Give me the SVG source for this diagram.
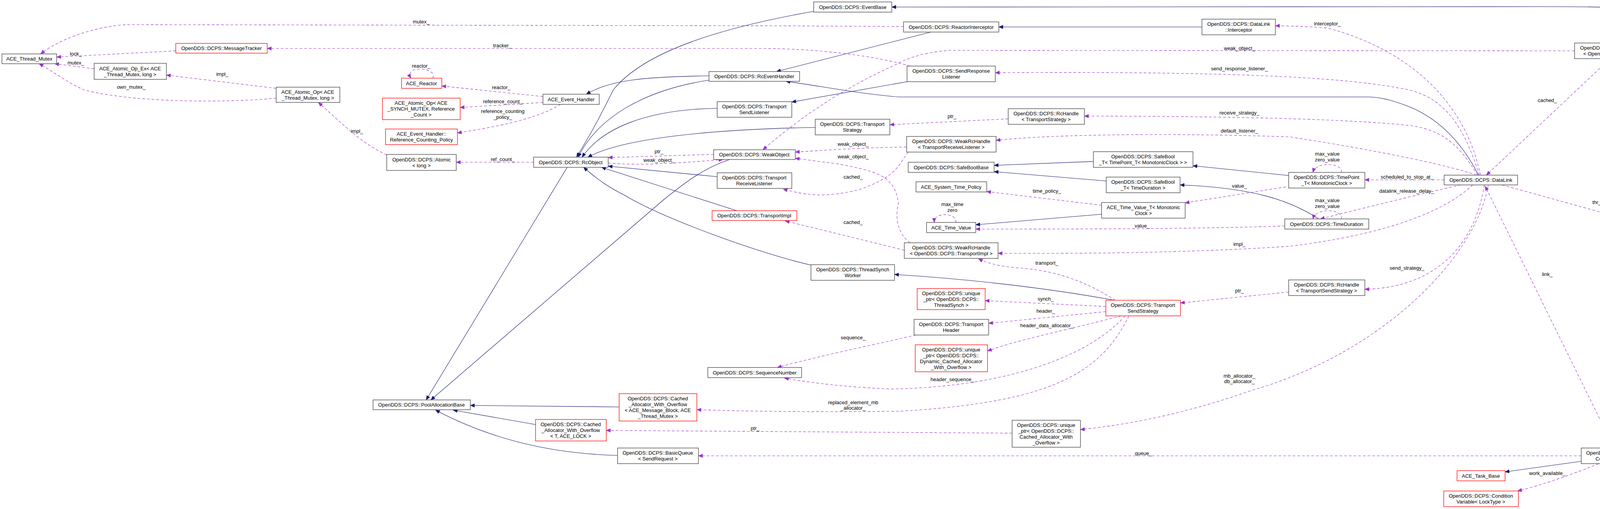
<svg xmlns="http://www.w3.org/2000/svg" width="4564" height="1302" viewBox="0 0 4564 1302">
<style>
.n rect{fill:#fff;stroke:#404040;stroke-width:1.3}
.r rect{fill:#fff;stroke:#ff0000;stroke-width:1.3}
.g rect{fill:#bfbfbf;stroke:#404040;stroke-width:1.3}
text{font-family:"Liberation Sans",Arial,sans-serif;font-size:13px;fill:#000;text-anchor:middle}
.inh path{fill:none;stroke:#191970;stroke-width:1.1;marker-end:url(#an)}
.use path{fill:none;stroke:#9a32cd;stroke-width:1.1;stroke-dasharray:7,5;marker-end:url(#ap)}
</style>
<defs>
<marker id="an" markerWidth="12" markerHeight="10" refX="11" refY="5" orient="auto" markerUnits="userSpaceOnUse"><path d="M0,0 L12,5 L0,10 z" fill="#191970"/></marker>
<marker id="ap" markerWidth="12" markerHeight="10" refX="11" refY="5" orient="auto" markerUnits="userSpaceOnUse"><path d="M0,0 L12,5 L0,10 z" fill="#9a32cd"/></marker>
</defs>
<rect width="4564" height="1302" fill="#fff"/>
<g id="edges">
<g class="inh">
<path d="M4354,36 C4200,18 4100,17 3950,17 L2283,18"/>
<path d="M3077,69 L2557,69"/>
<path d="M2383,82 L1988,183"/>
<path d="M1815,194 C1650,196 1560,205 1501,241"/>
<path d="M1815,205 C1650,230 1530,300 1480,402"/>
<path d="M2083,29 C1850,70 1650,130 1570,230 C1540,290 1520,330 1476,402"/>
<path d="M1836,277 C1650,280 1540,330 1490,402"/>
<path d="M2087,326 C1850,330 1600,350 1505,402"/>
<path d="M1836,452 L1557,425"/>
<path d="M1886,539 L1540,428"/>
<path d="M2076,678 C1950,650 1700,560 1600,500 C1560,480 1530,460 1494,428"/>
<path d="M1452,428 L1091,1023"/>
<path d="M1868,408 C1800,430 1750,470 1700,510 L1103,1023"/>
<path d="M3785,448 C3740,360 3680,300 3600,270 C3560,255 3530,248 3500,248 L2300,248 C2200,240 2100,220 2012,208"/>
<path d="M2322,209 L2027,261"/>
<path d="M2799,413 L2545,423"/>
<path d="M2832,463 L2545,439"/>
<path d="M3299,449 L3054,424"/>
<path d="M3376,560 C3300,510 3200,480 3021,473"/>
<path d="M2820,548 L2498,575"/>
<path d="M2852,768 C2700,740 2500,715 2290,702"/>
<path d="M4048,1180 L3853,1207"/>
<path d="M1585,1041 L1204,1037"/>
<path d="M1371,1086 L1160,1049"/>
<path d="M1581,1165 C1400,1160 1250,1120 1115,1049"/>
</g>
<g class="use">
<path d="M2313,68 L2000,66 L330,63 C250,65 150,100 104,138"/>
<path d="M2330,169 C2250,145 2100,124 1950,124 L684,124"/>
<path d="M707,226 L426,192"/>
<path d="M707,251 C600,262 350,265 215,230 C170,210 140,185 100,163"/>
<path d="M241,176 L140,163"/>
<path d="M450,130 L145,146"/>
<path d="M990,396 C930,370 880,320 815,262"/>
<path d="M1366,415 L1168,415"/>
<path d="M1390,247 L1131,220"/>
<path d="M1390,262 L1178,275"/>
<path d="M1435,267 C1380,300 1300,320 1171,340"/>
<path d="M1108,200 C1115,183 1090,175 1070,177 C1050,178 1046,190 1052,200"/>
<path d="M1827,395 L1557,403"/>
<path d="M1557,417 C1650,425 1760,415 1851,408"/>
<path d="M4031,130 L2430,129 C2380,132 2330,145 2300,162 C2150,230 2050,300 1953,383"/>
<path d="M4370,75 L4233,110"/>
<path d="M4122,150 L3805,448"/>
<path d="M3790,448 C3760,300 3650,140 3400,72 C3350,68 3300,66 3265,66"/>
<path d="M3787,448 C3750,330 3700,240 3580,225 C3400,190 3000,183 2548,186"/>
<path d="M3783,448 C3740,380 3700,330 3600,320 C3400,300 3000,297 2776,297"/>
<path d="M3780,448 C3700,420 3500,380 3300,350 C3000,340 2700,343 2550,359"/>
<path d="M3697,460 L3494,460"/>
<path d="M3740,473 C3620,500 3500,530 3380,560"/>
<path d="M3770,473 C3700,540 3550,600 3300,630 C3000,650 2700,648 2555,648"/>
<path d="M3800,473 C3780,600 3700,735 3494,740"/>
<path d="M3810,473 C3780,650 3550,900 3200,1000 C3000,1070 2850,1090 2766,1099"/>
<path d="M3845,473 L4335,608"/>
<path d="M4132,1146 L3802,476"/>
<path d="M4430,663 L4160,1146"/>
<path d="M4048,1166 L1788,1166"/>
<path d="M4093,1186 C4020,1215 3950,1240 3885,1256"/>
<path d="M3434,441 C3440,418 3370,410 3361,441"/>
<path d="M3434,560 C3440,536 3370,528 3361,560"/>
<path d="M2447,569 C2452,545 2390,540 2392,569"/>
<path d="M3292,478 L3034,519"/>
<path d="M3289,578 C3100,585 2800,586 2498,586"/>
<path d="M2820,525 L2526,490"/>
<path d="M2581,304 L2278,319"/>
<path d="M2325,389 C2300,420 2300,450 2200,485 C2100,510 2050,495 2005,484"/>
<path d="M2321,376 C2200,378 2100,385 2036,389"/>
<path d="M2330,621 C2300,600 2290,560 2300,520 C2290,450 2250,440 2150,420 L2036,405"/>
<path d="M2315,640 L2010,565"/>
<path d="M2855,768 C2780,720 2700,690 2600,685 C2550,680 2520,670 2505,662"/>
<path d="M2831,784 L2522,769"/>
<path d="M2831,797 L2531,827"/>
<path d="M2870,808 C2750,840 2600,870 2528,898"/>
<path d="M2880,808 C2800,900 2600,990 2280,995 C2150,990 2050,975 2008,967"/>
<path d="M2345,857 C2200,890 2100,910 1990,940"/>
<path d="M2890,808 C2820,950 2700,1030 2300,1052 C2000,1055 1850,1050 1784,1048"/>
<path d="M2591,1108 L1552,1101"/>
<path d="M3299,747 L3022,775"/>
</g>
<g id="labels">
<text x="1078" y="60">mutex_</text>
<text x="1286" y="121">tracker_</text>
<text x="569" y="194">impl_</text>
<text x="336" y="227">own_mutex_</text>
<text x="194" y="165">mutex_</text>
<text x="194" y="142">lock_</text>
<text x="914" y="340">impl_</text>
<text x="1287" y="412">ref_count_</text>
<text x="1283" y="228">reactor_</text>
<text x="1287" y="264">reference_count_</text>
<text x="1287" y="289">reference_counting</text>
<text x="1287" y="304">_policy_</text>
<text x="1078" y="173">reactor_</text>
<text x="1687" y="392">ptr_</text>
<text x="1687" y="414">weak_object_</text>
<text x="3173" y="128">weak_object_</text>
<text x="4302" y="86">link_</text>
<text x="3961" y="261">cached_</text>
<text x="3398" y="65">interceptor_</text>
<text x="3173" y="180">send_response_listener_</text>
<text x="3173" y="293">receive_strategy_</text>
<text x="3173" y="339">default_listener_</text>
<text x="3602" y="457">scheduled_to_stop_at_</text>
<text x="3601" y="493">datalink_release_delay_</text>
<text x="3173" y="629">impl_</text>
<text x="3602" y="690">send_strategy_</text>
<text x="3173" y="966">mb_allocator_</text>
<text x="3173" y="980">db_allocator_</text>
<text x="4148" y="522">thr_per_con_send_task_</text>
<text x="3961" y="706">link_</text>
<text x="4302" y="866">ptr_</text>
<text x="2927" y="1164">queue_</text>
<text x="3961" y="1215">work_available_</text>
<text x="3398" y="398">max_value</text>
<text x="3398" y="413">zero_value</text>
<text x="3398" y="517">max_value</text>
<text x="3398" y="532">zero_value</text>
<text x="2438" y="527">max_time</text>
<text x="2438" y="542">zero</text>
<text x="3173" y="480">value_</text>
<text x="2924" y="582">value_</text>
<text x="2680" y="493">time_policy_</text>
<text x="2437" y="302">ptr_</text>
<text x="2184" y="457">cached_</text>
<text x="2184" y="373">weak_object_</text>
<text x="2184" y="405">weak_object_</text>
<text x="2184" y="573">cached_</text>
<text x="2680" y="677">transport_</text>
<text x="2677" y="769">synch_</text>
<text x="2677" y="800">header_</text>
<text x="2680" y="837">header_data_allocator_</text>
<text x="2438" y="975">header_sequence_</text>
<text x="2184" y="868">sequence_</text>
<text x="2184" y="1034">replaced_element_mb</text>
<text x="2184" y="1048">_allocator_</text>
<text x="1933" y="1100">ptr_</text>
<text x="3173" y="748">ptr_</text>
</g>
</g>
<g id="n1" class="g"><rect x="4354" y="34" width="191" height="41"/><text x="4449" y="52">OpenDDS::DCPS::Transport</text><text x="4449" y="67">Impl::DoClear</text></g>
<g id="n2" class="n"><rect x="2083" y="5" width="200" height="26"/><text x="2183" y="23">OpenDDS::DCPS::EventBase</text></g>
<g id="n3" class="n"><rect x="2313" y="56" width="244" height="26"/><text x="2435" y="74">OpenDDS::DCPS::ReactorInterceptor</text></g>
<g id="n4" class="n"><rect x="3077" y="49" width="188" height="40"/><text x="3171" y="66">OpenDDS::DCPS::DataLink</text><text x="3171" y="81">::Interceptor</text></g>
<g id="n5" class="n"><rect x="4031" y="110" width="229" height="40"/><text x="4145" y="127">OpenDDS::DCPS::WeakRcHandle</text><text x="4145" y="142">&lt; OpenDDS::DCPS::DataLink &gt;</text></g>
<g id="n6" class="n"><rect x="5" y="138" width="140" height="25"/><text x="75" y="155">ACE_Thread_Mutex</text></g>
<g id="n7" class="r"><rect x="450" y="111" width="234" height="25"/><text x="567" y="128">OpenDDS::DCPS::MessageTracker</text></g>
<g id="n8" class="n"><rect x="241" y="162" width="185" height="41"/><text x="333" y="180">ACE_Atomic_Op_Ex&lt; ACE</text><text x="333" y="195">_Thread_Mutex, long &gt;</text></g>
<g id="n9" class="n"><rect x="707" y="223" width="163" height="39"/><text x="788" y="240">ACE_Atomic_Op&lt; ACE</text><text x="788" y="255">_Thread_Mutex, long &gt;</text></g>
<g id="n10" class="r"><rect x="1028" y="200" width="103" height="26"/><text x="1079" y="218">ACE_Reactor</text></g>
<g id="n11" class="r"><rect x="979" y="251" width="199" height="55"/><text x="1078" y="268">ACE_Atomic_Op&lt; ACE</text><text x="1078" y="283">_SYNCH_MUTEX, Reference</text><text x="1078" y="298">_Count &gt;</text></g>
<g id="n12" class="r"><rect x="987" y="330" width="184" height="40"/><text x="1079" y="347">ACE_Event_Handler::</text><text x="1079" y="362">Reference_Counting_Policy</text></g>
<g id="n13" class="n"><rect x="990" y="395" width="178" height="41"/><text x="1079" y="413">OpenDDS::DCPS::Atomic</text><text x="1079" y="428">&lt; long &gt;</text></g>
<g id="n14" class="n"><rect x="1390" y="241" width="144" height="26"/><text x="1462" y="259">ACE_Event_Handler</text></g>
<g id="n15" class="n"><rect x="1366" y="402" width="191" height="26"/><text x="1461" y="420">OpenDDS::DCPS::RcObject</text></g>
<g id="n16" class="n"><rect x="1815" y="183" width="232" height="25"/><text x="1931" y="200">OpenDDS::DCPS::RcEventHandler</text></g>
<g id="n17" class="n"><rect x="1836" y="260" width="191" height="40"/><text x="1931" y="277">OpenDDS::DCPS::Transport</text><text x="1931" y="292">SendListener</text></g>
<g id="n18" class="n"><rect x="2087" y="305" width="191" height="40"/><text x="2182" y="322">OpenDDS::DCPS::Transport</text><text x="2182" y="337">Strategy</text></g>
<g id="n19" class="n"><rect x="1827" y="383" width="209" height="25"/><text x="1931" y="400">OpenDDS::DCPS::WeakObject</text></g>
<g id="n20" class="n"><rect x="1836" y="442" width="191" height="40"/><text x="1931" y="459">OpenDDS::DCPS::Transport</text><text x="1931" y="474">ReceiveListener</text></g>
<g id="n21" class="r"><rect x="1823" y="539" width="217" height="25"/><text x="1931" y="556">OpenDDS::DCPS::TransportImpl</text></g>
<g id="n22" class="n"><rect x="2076" y="677" width="214" height="40"/><text x="2183" y="694">OpenDDS::DCPS::ThreadSynch</text><text x="2183" y="709">Worker</text></g>
<g id="n23" class="n"><rect x="1812" y="940" width="240" height="26"/><text x="1932" y="958">OpenDDS::DCPS::SequenceNumber</text></g>
<g id="n24" class="r"><rect x="1585" y="1007" width="199" height="70"/><text x="1684" y="1024">OpenDDS::DCPS::Cached</text><text x="1684" y="1039">_Allocator_With_Overflow</text><text x="1684" y="1054">&lt; ACE_Message_Block, ACE</text><text x="1684" y="1069">_Thread_Mutex &gt;</text></g>
<g id="n25" class="r"><rect x="1371" y="1073" width="181" height="55"/><text x="1461" y="1090">OpenDDS::DCPS::Cached</text><text x="1461" y="1105">_Allocator_With_Overflow</text><text x="1461" y="1120">&lt; T, ACE_LOCK &gt;</text></g>
<g id="n26" class="n"><rect x="1581" y="1146" width="207" height="40"/><text x="1684" y="1163">OpenDDS::DCPS::BasicQueue</text><text x="1684" y="1178">&lt; SendRequest &gt;</text></g>
<g id="n27" class="n"><rect x="955" y="1023" width="249" height="25"/><text x="1079" y="1040">OpenDDS::DCPS::PoolAllocationBase</text></g>
<g id="n28" class="n"><rect x="2322" y="169" width="226" height="40"/><text x="2435" y="186">OpenDDS::DCPS::SendResponse</text><text x="2435" y="201">Listener</text></g>
<g id="n29" class="n"><rect x="2581" y="278" width="195" height="40"/><text x="2678" y="295">OpenDDS::DCPS::RcHandle</text><text x="2678" y="310">&lt; TransportStrategy &gt;</text></g>
<g id="n30" class="n"><rect x="2321" y="349" width="229" height="40"/><text x="2435" y="366">OpenDDS::DCPS::WeakRcHandle</text><text x="2435" y="381">&lt; TransportReceiveListener &gt;</text></g>
<g id="n31" class="n"><rect x="2325" y="415" width="220" height="26"/><text x="2435" y="433">OpenDDS::DCPS::SafeBoolBase</text></g>
<g id="n32" class="n"><rect x="2799" y="388" width="255" height="40"/><text x="2926" y="405">OpenDDS::DCPS::SafeBool</text><text x="2926" y="420">_T&lt; TimePoint_T&lt; MonotonicClock &gt; &gt;</text></g>
<g id="n33" class="n"><rect x="2345" y="465" width="181" height="26"/><text x="2435" y="483">ACE_System_Time_Policy</text></g>
<g id="n34" class="n"><rect x="2832" y="453" width="189" height="40"/><text x="2926" y="470">OpenDDS::DCPS::SafeBool</text><text x="2926" y="485">_T&lt; TimeDuration &gt;</text></g>
<g id="n35" class="n"><rect x="2820" y="518" width="214" height="40"/><text x="2927" y="535">ACE_Time_Value_T&lt; Monotonic</text><text x="2927" y="550">Clock &gt;</text></g>
<g id="n36" class="n"><rect x="2372" y="569" width="126" height="26"/><text x="2435" y="587">ACE_Time_Value</text></g>
<g id="n37" class="n"><rect x="2315" y="621" width="240" height="40"/><text x="2435" y="638">OpenDDS::DCPS::WeakRcHandle</text><text x="2435" y="653">&lt; OpenDDS::DCPS::TransportImpl &gt;</text></g>
<g id="n38" class="r"><rect x="2348" y="738" width="174" height="54"/><text x="2435" y="755">OpenDDS::DCPS::unique</text><text x="2435" y="770">_ptr&lt; OpenDDS::DCPS::</text><text x="2435" y="785">ThreadSynch &gt;</text></g>
<g id="n39" class="n"><rect x="2340" y="817" width="191" height="40"/><text x="2435" y="834">OpenDDS::DCPS::Transport</text><text x="2435" y="849">Header</text></g>
<g id="n40" class="r"><rect x="2343" y="882" width="185" height="69"/><text x="2435" y="899">OpenDDS::DCPS::unique</text><text x="2435" y="914">_ptr&lt; OpenDDS::DCPS::</text><text x="2435" y="929">Dynamic_Cached_Allocator</text><text x="2435" y="944">_With_Overflow &gt;</text></g>
<g id="n41" class="r"><rect x="2831" y="768" width="191" height="40"/><text x="2926" y="785">OpenDDS::DCPS::Transport</text><text x="2926" y="800">SendStrategy</text></g>
<g id="n42" class="n"><rect x="2591" y="1075" width="175" height="69"/><text x="2678" y="1092">OpenDDS::DCPS::unique</text><text x="2678" y="1107">_ptr&lt; OpenDDS::DCPS::</text><text x="2678" y="1122">Cached_Allocator_With</text><text x="2678" y="1137">_Overflow &gt;</text></g>
<g id="n43" class="n"><rect x="3299" y="441" width="195" height="40"/><text x="3396" y="458">OpenDDS::DCPS::TimePoint</text><text x="3396" y="473">_T&lt; MonotonicClock &gt;</text></g>
<g id="n44" class="n"><rect x="3289" y="560" width="215" height="26"/><text x="3396" y="578">OpenDDS::DCPS::TimeDuration</text></g>
<g id="n45" class="n"><rect x="3697" y="448" width="188" height="25"/><text x="3791" y="465">OpenDDS::DCPS::DataLink</text></g>
<g id="n46" class="n"><rect x="3299" y="716" width="195" height="40"/><text x="3396" y="733">OpenDDS::DCPS::RcHandle</text><text x="3396" y="748">&lt; TransportSendStrategy &gt;</text></g>
<g id="n47" class="r"><rect x="3730" y="1204" width="123" height="26"/><text x="3791" y="1222">ACE_Task_Base</text></g>
<g id="n48" class="r"><rect x="3696" y="1256" width="191" height="40"/><text x="3791" y="1273">OpenDDS::DCPS::Condition</text><text x="3791" y="1288">Variable&lt; LockType &gt;</text></g>
<g id="n49" class="n"><rect x="4340" y="608" width="219" height="55"/><text x="4449" y="625">OpenDDS::DCPS::unique</text><text x="4449" y="640">_ptr&lt; OpenDDS::DCPS::</text><text x="4449" y="655">ThreadPerConnectionSendTask &gt;</text></g>
<g id="n50" class="n"><rect x="4048" y="1146" width="196" height="40"/><text x="4146" y="1163">OpenDDS::DCPS::ThreadPer</text><text x="4146" y="1178">ConnectionSendTask</text></g>
</svg>
